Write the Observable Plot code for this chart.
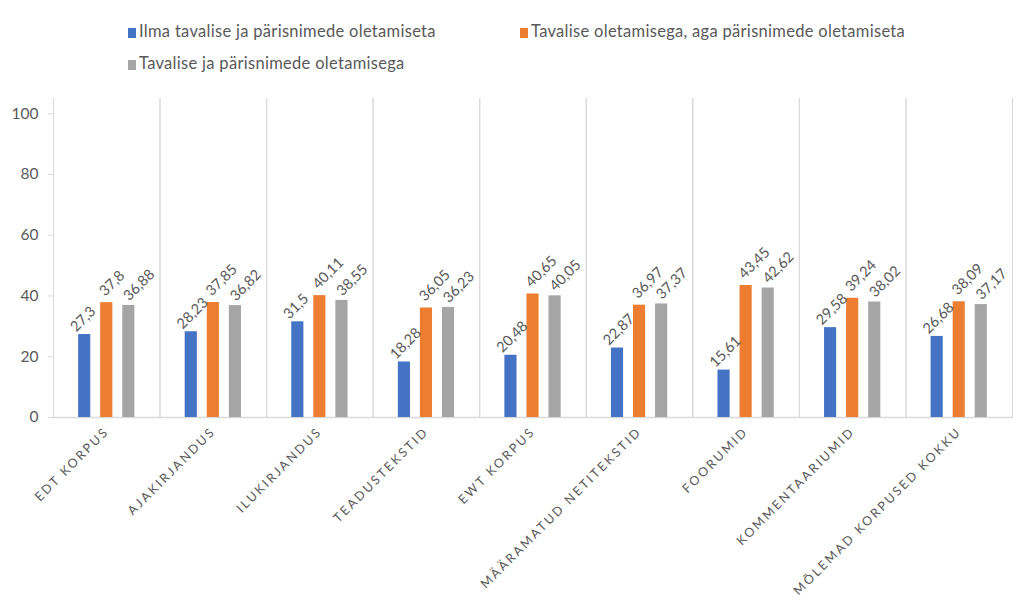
<!DOCTYPE html>
<html><head><meta charset="utf-8">
<script src="https://cdn.jsdelivr.net/npm/d3@7"></script>
<script src="https://cdn.jsdelivr.net/npm/@observablehq/plot@0.6"></script>
<style>
body{margin:0;background:#fff;font-family:Lato, "Open Sans", sans-serif;}
#legend{height:80px;box-sizing:border-box;padding:15px 0 0 128px;display:flex;flex-wrap:wrap;width:1000px;align-content:flex-start;}
.item{width:392px;height:32px;line-height:32px;font-size:16.5px;letter-spacing:0.3px;color:#595959;white-space:nowrap;}
.sw{display:inline-block;width:8px;height:10px;margin-right:3px;vertical-align:-1px;}
#chart svg{display:block;}
g[aria-label="fx-axis tick label"] text{letter-spacing:2.3px;}
</style></head><body>
<div id="legend"></div><div id="chart"></div>
<script>
const categories = ["EDT KORPUS","AJAKIRJANDUS","ILUKIRJANDUS","TEADUSTEKSTID","EWT KORPUS","MÄÄRAMATUD NETITEKSTID","FOORUMID","KOMMENTAARIUMID","MÕLEMAD KORPUSED KOKKU"];
const seriesNames = ["Ilma tavalise ja pärisnimede oletamiseta","Tavalise oletamisega, aga pärisnimede oletamiseta","Tavalise ja pärisnimede oletamisega"];
const colors = ["#4472C4","#ED7D31","#A5A5A5"];
const ilma = [27.3, 28.23, 31.5, 18.28, 20.48, 22.87, 15.61, 29.58, 26.68];
const tavalise = [37.8, 37.85, 40.11, 36.05, 40.65, 36.97, 43.45, 39.24, 38.09];
const molemad = [36.88, 36.82, 38.55, 36.23, 40.05, 37.37, 42.62, 38.02, 37.17];
const yTicks = [0, 20, 40, 60, 80, 100];

const seriesValues = [ilma, tavalise, molemad];
const data = [];
categories.forEach((c, i) => seriesNames.forEach((s, j) => data.push({cat: c, series: s, value: seriesValues[j][i]})));

const legend = document.getElementById("legend");
seriesNames.forEach((s, j) => {
  const d = document.createElement("div");
  d.className = "item";
  d.innerHTML = `<span class="sw" style="background:${colors[j]}"></span>${s}`;
  legend.appendChild(d);
});

const fmt = v => String(v).replace(".", ",");
// per-series label offsets (styling only)
const labelOffsets = [[-8.5, -2], [-1.5, -6], [0.5, -4]];

const chart = Plot.plot({
  width: 1020,
  height: 521,
  marginTop: 18,
  marginBottom: 184,
  marginLeft: 53,
  marginRight: 8,
  style: {fontFamily: "Lato, sans-serif", color: "#595959", background: "#fff"},
  fx: {domain: categories, padding: 0, round: false, label: null},
  x: {domain: seriesNames, paddingInner: 0.45, paddingOuter: 1.14, round: false, axis: null},
  y: {domain: [0, 105], label: null},
  color: {domain: seriesNames, range: colors},
  marks: [
    Plot.frame({anchor: "left", stroke: "#d9d9d9", strokeWidth: 1}),
    Plot.frame({anchor: "right", stroke: "#d9d9d9", strokeWidth: 1}),
    Plot.axisY({ticks: yTicks, tickSize: 5, tickPadding: 10, stroke: "#d9d9d9", fill: "#595959", fontSize: 15.5, label: null}),
    Plot.axisFx({anchor: "bottom", tickRotate: -45, tickSize: 0, tickPadding: 12, fontSize: 12.5, fill: "#595959", label: null}),
    Plot.ruleY([0], {stroke: "#d9d9d9", strokeWidth: 1.5}),
    Plot.barY(data, {fx: "cat", x: "series", y: "value", fill: "series"}),
    ...seriesNames.map((s, j) => Plot.text(data.filter(d => d.series === s), {
      fx: "cat", x: "series", y: "value", text: d => fmt(d.value),
      rotate: -45, textAnchor: "start", lineAnchor: "bottom",
      dx: labelOffsets[j][0], dy: labelOffsets[j][1], fill: "#595959", fontSize: 14.5
    }))
  ]
});
document.getElementById("chart").appendChild(chart);
</script>
</body></html>
